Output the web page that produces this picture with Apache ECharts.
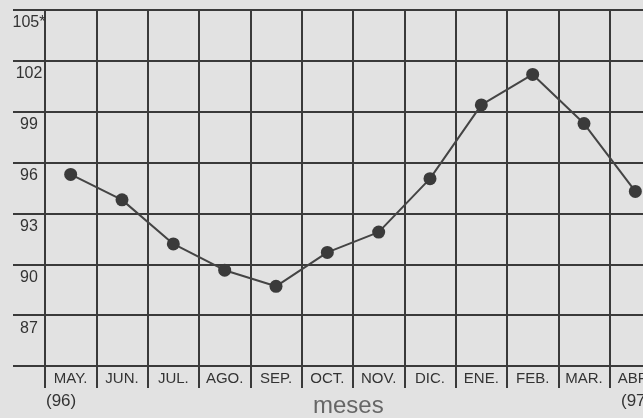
<!DOCTYPE html>
<html>
<head>
<meta charset="utf-8">
<script src="https://cdn.jsdelivr.net/npm/echarts@6/dist/echarts.min.js"></script>
<style>
  html, body { margin: 0; padding: 0; background: #e2e2e2; overflow: hidden; }
  /* the scan is cut on the right, so the chart is wider than the window */
  #main { width: 680px; height: 418px; }
</style>
</head>
<body>
<div id="main"></div>
<script>
// meses de mayo 96 a abril 97
var months = ['MAY.', 'JUN.', 'JUL.', 'AGO.', 'SEP.', 'OCT.', 'NOV.', 'DIC.', 'ENE.', 'FEB.', 'MAR.', 'ABR.']
var values = [95.3, 93.8, 91.2, 89.65, 88.7, 90.7, 91.9, 95.05, 99.4, 101.2, 98.3, 94.3]
var yTicks = { min: 84, max: 105, step: 3 }

var gridColor = '#3a3a3a'
var myChart = echarts.init(document.getElementById('main'))

myChart.setOption({
  backgroundColor: '#e2e2e2',
  animation: false,
  grid: { left: 45, top: 10, width: 616, bottom: 52 },
  xAxis: {
    type: 'category',
    data: months,
    boundaryGap: true,
    axisLine: { show: true, lineStyle: { color: gridColor, width: 2 } },
    axisTick: { show: true, length: 22, interval: 0, lineStyle: { color: gridColor, width: 2 } },
    splitLine: { show: true, interval: 0, lineStyle: { color: gridColor, width: 2 } },
    axisLabel: {
      interval: 0,
      margin: 5,
      color: '#333',
      fontSize: 15,
      fontFamily: 'Liberation Sans'
    }
  },
  yAxis: {
    type: 'value',
    min: yTicks.min,
    max: yTicks.max,
    interval: yTicks.step,
    axisLine: { show: true, lineStyle: { color: gridColor, width: 2 } },
    axisTick: { show: true, length: 32, lineStyle: { color: gridColor, width: 2 } },
    splitLine: { show: true, lineStyle: { color: gridColor, width: 2 } },
    axisLabel: {
      margin: 16,
      align: 'center',
      verticalAlign: 'top',
      padding: [5, 0, 0, 0],
      color: '#333',
      fontSize: 16,
      fontFamily: 'Liberation Sans',
      formatter: function (v) {
        if (v === yTicks.min) return ''
        if (v === yTicks.max) return v + '*'
        return v
      }
    }
  },
  graphic: [
    { type: 'text', left: 46, top: 393, style: { text: '(96)', fontSize: 17, fontFamily: 'Liberation Sans', fill: '#333' } },
    { type: 'text', left: 621, top: 393, style: { text: '(97)', fontSize: 17, fontFamily: 'Liberation Sans', fill: '#333' } },
    { type: 'text', left: 313, top: 394, style: { text: 'meses', fontSize: 24, fontFamily: 'Liberation Sans', fill: '#666' } }
  ],
  series: [
    {
      type: 'line',
      data: values,
      symbol: 'circle',
      symbolSize: 13,
      itemStyle: { color: '#3a3a3a' },
      lineStyle: { color: '#444', width: 2 }
    }
  ]
})
</script>
</body>
</html>
